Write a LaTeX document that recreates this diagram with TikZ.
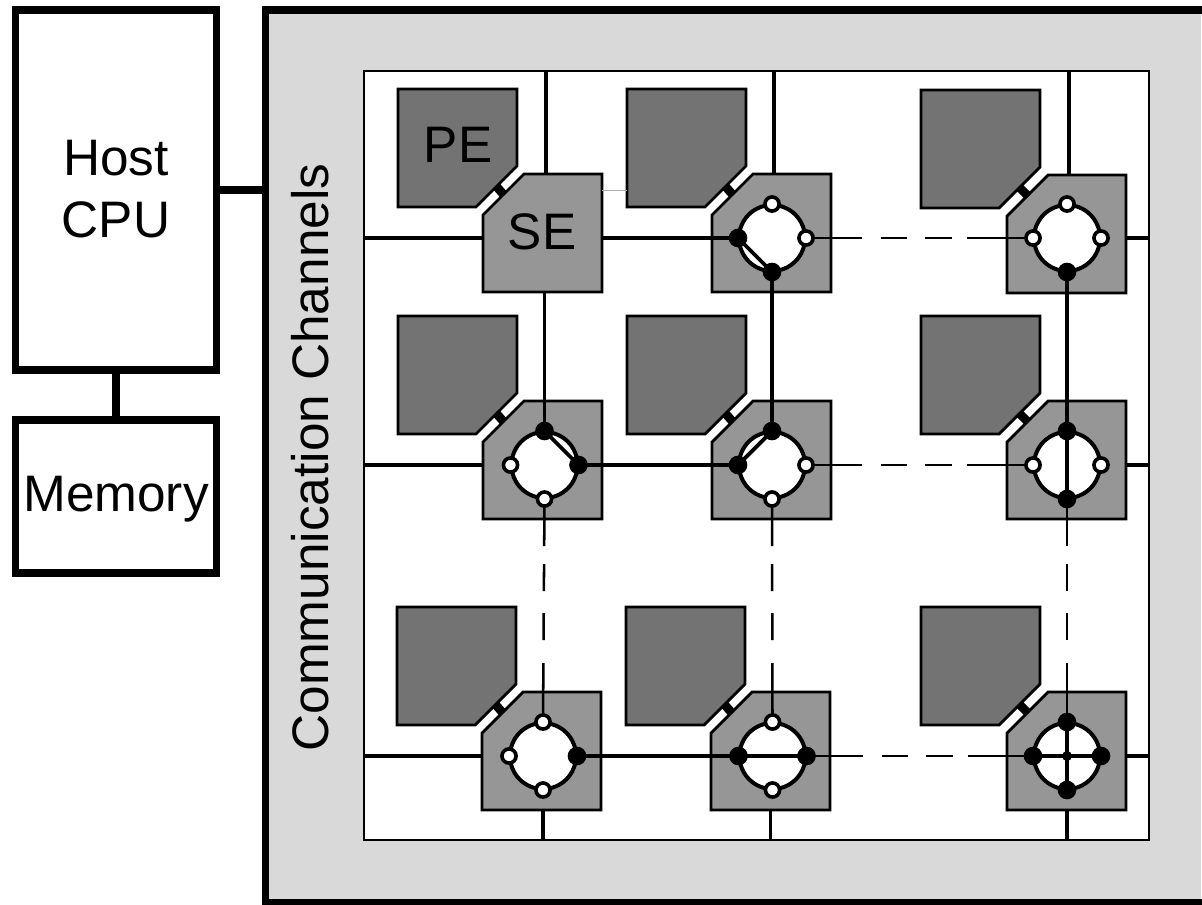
\documentclass[tikz,border=0pt]{standalone}
\usepackage{fontspec}
\setmainfont{Liberation Sans}
\usetikzlibrary{calc}
\definecolor{chanfill}{HTML}{D9D9D9}
\definecolor{pefill}{HTML}{737373}
\definecolor{sefill}{HTML}{969696}
\pgfdeclarelayer{bg}
\pgfdeclarelayer{mid}
\pgfsetlayers{bg,mid,main}
\tikzset{
  x=.75pt,y=-.75pt,
  heavybox/.style={draw,line width=5.6pt,fill=white,rectangle,inner sep=0pt,outer sep=0pt},
  heavyline/.style={line width=5.6pt},
  label/.style={font=\fontsize{38.5}{46}\selectfont,anchor=base,inner sep=0pt},
  unitframe/.style={rectangle,minimum width=89.25pt,minimum height=88.5pt,inner sep=0pt,outer sep=0pt},
  pebox/.style={draw,line width=2.1pt,fill=pefill,line join=miter},
  sebox/.style={draw,line width=2.1pt,fill=sefill,line join=miter},
  ring/.style={circle,draw,fill=white,line width=3pt,minimum size=49.5pt,inner sep=0pt,outer sep=0pt},
  openport/.style={circle,draw,fill=white,line width=2.7pt,minimum size=10.6pt,inner sep=0pt,outer sep=0pt},
  closedport/.style={circle,fill=black,minimum size=14pt,inner sep=0pt,outer sep=0pt},
  crosspoint/.style={circle,fill=black,minimum size=7.5pt,inner sep=0pt,outer sep=0pt},
  strong/.style={line width=2.9pt},
  weak/.style={line width=1.9pt},
  linkbar/.style={line width=6.6pt},
  hdash/.style={weak,dash pattern=on 42pt off 14.25pt on 19.5pt off 13.5pt on 20.25pt off 11.25pt on 50.25pt off 0pt},
  vdash/.style={weak,dash pattern=on 35.25pt off 13.5pt on 20.25pt off 16.5pt on 20.25pt off 17.25pt on 45.75pt off 0pt},
}
% id, SE left, SE top, PE left, PE top
\newcommand\peseunit[5]{%
  \node[unitframe] (pe#1) at ({#4+59.5},{#5+59}) {};
  \node[unitframe] (se#1) at ({#2+59.5},{#3+59}) {};
  \draw[pebox] (pe#1.north west) -- (pe#1.north east) -- ($(pe#1.south east)+(0,-41)$)
     -- ($(pe#1.south east)+(-41,0)$) -- (pe#1.south west) -- cycle;
  \draw[sebox] ($(se#1.north west)+(41,0)$) -- (se#1.north east) -- (se#1.south east)
     -- (se#1.south west) -- ($(se#1.north west)+(0,41)$) -- cycle;
  \coordinate (pc#1) at ($(pe#1.south east)+(-20.5,-20.5)$);
  \coordinate (sc#1) at ($(se#1.north west)+(20.5,20.5)$);
  \draw[linkbar] (pc#1) -- (sc#1);
}
% id, centre x, centre y
\newcommand\swring[3]{\node[ring] (ring#1) at (#2,#3) {};}
% id, centre x, centre y, styles of top right bottom left
\newcommand\swports[7]{%
  \node[#4] (t#1) at (#2,{#3-34}) {};
  \node[#5] (r#1) at ({#2+34},#3) {};
  \node[#6] (b#1) at (#2,{#3+34}) {};
  \node[#7] (l#1) at ({#2-34},#3) {};
}
\begin{document}
\begin{tikzpicture}
\useasboundingbox (0,0) rectangle (1202,904);
\begin{pgfonlayer}{bg}
  \node[fill=chanfill,rectangle,inner sep=0pt,outer sep=0pt,minimum width=701.25pt,minimum height=669pt] (chan) at (733.5,456) {};
  \draw[heavyline] (1202,10) -- (265.5,10) -- (265.5,902.5) -- (1202,902.5);
  \node[rectangle,draw,fill=white,line width=2.2pt,inner sep=0pt,outer sep=0pt,minimum width=588.75pt,minimum height=576.75pt] (grid) at (756.5,455.5) {};
  \peseunit{11}{483}{174}{398}{89}
  \peseunit{12}{712}{174}{627}{89}
  \peseunit{13}{1007}{175}{921}{90}
  \peseunit{21}{483}{401}{398}{316}
  \peseunit{22}{712}{401}{627}{316}
  \peseunit{23}{1007}{401}{921}{316}
  \peseunit{31}{482}{692}{397}{607}
  \peseunit{32}{711}{692}{626}{607}
  \peseunit{33}{1007}{692}{921}{607}
  \swring{12}{772}{238}
  \swring{13}{1067}{238}
  \swring{21}{544.5}{465}
  \swring{22}{772}{465}
  \swring{23}{1067}{465}
  \swring{31}{543}{756}
  \swring{32}{772.5}{756}
  \swring{33}{1067}{756}
\end{pgfonlayer}

\node[heavybox,minimum width=150.75pt,minimum height=270pt] (host) at (116,190) {};
\node[heavybox,minimum width=150.75pt,minimum height=114.75pt] (mem) at (116,496.5) {};
\node[label] (hostA) at (116,175) {Host};
\node[label] (hostB) at (116,237) {CPU};
\node[label] (memL) at (116,511.5) {Memory};
\node[label,rotate=90] (chanL) at (328,457.5) {Communication Channels};
\node[label] (peL) at (458,162.5) {PE};
\node[label] (seL) at (542,249) {SE};

\swports{12}{772}{238}{openport}{openport}{closedport}{closedport}
\swports{13}{1067}{238}{openport}{openport}{closedport}{openport}
\swports{21}{544.5}{465}{closedport}{closedport}{openport}{openport}
\swports{22}{772}{465}{closedport}{openport}{openport}{closedport}
\swports{23}{1067}{465}{closedport}{openport}{closedport}{openport}
\swports{31}{543}{756}{openport}{closedport}{openport}{openport}
\swports{32}{772.5}{756}{openport}{closedport}{openport}{closedport}
\swports{33}{1067}{756}{closedport}{closedport}{closedport}{closedport}
\node[crosspoint] (x33) at (1067,756) {};

\begin{pgfonlayer}{mid}
  \draw[heavyline] (host) -- (host -| chan.west);
  \draw[heavyline] (host.south) -- (mem.north);
  \coordinate (glink) at ($(pc11)!.5!(sc11)$);
  \draw[line width=1.3pt,color=black!32] (se11.east |- glink) -- (pe12.west |- glink);
  % stubs to the top of the grid
  \draw[strong] (546,71) -- (546,174);
  \draw[strong] (774,71) -- (774,174);
  \draw[strong] (1069,71) -- (1069,175);
  % stubs to the left of the grid
  \draw[strong] (grid.west |- l21) -- (se21.west |- l21);
  \draw[strong] (grid.west |- l31) -- (se31.west |- l31);
  \draw[strong] (grid.west |- l12) -- (se11.west |- l12);
  % stubs to the right of the grid
  \draw[strong] (grid.east |- l13) -- (se13.east |- l13);
  \draw[strong] (grid.east |- l23) -- (se23.east |- l23);
  \draw[strong] (grid.east |- l33) -- (se33.east |- l33);
  % stubs to the bottom of the grid
  \draw[strong] (b31 |- grid.south) -- (b31 |- se31.south);
  \draw[strong] (770.5,840) -- (770.5,810);
  \draw[strong] (b33 |- grid.south) -- (b33 |- se33.south);
  % links between switches
  \draw[strong] (se11.east |- l12) -- (l12.center);
  \draw[strong] (t21 |- se11.south) -- (t21.center);
  \draw[strong] (b12.center) -- (t22.center);
  \draw[strong] (b13.center) -- (t23.center);
  \draw[strong] (r21.center) -- (l22.center);
  \draw[strong] (r31.center) -- (l32.center);
  \draw[hdash] (r12.center) -- (l13.center);
  \draw[hdash] (r22.center) -- (l23.center);
  \draw[hdash] (r32.center) -- (l33.center);
  \draw[vdash] (b21.center) -- (t31.center);
  \draw[vdash] (b22.center) -- (t32.center);
  \draw[vdash] (b23.center) -- (t33.center);
  % paths inside switches
  \draw[strong] (l12.center) -- (b12.center);
  \draw[strong] (t21.center) -- (r21.center);
  \draw[strong] (l22.center) -- (t22.center);
  \draw[strong] (t23.center) -- (b23.center);
  \draw[strong] (l32.center) -- (r32.center);
  \draw[strong] (l33.center) -- (r33.center);
  \draw[strong] (t33.center) -- (b33.center);
\end{pgfonlayer}
\end{tikzpicture}
\end{document}
